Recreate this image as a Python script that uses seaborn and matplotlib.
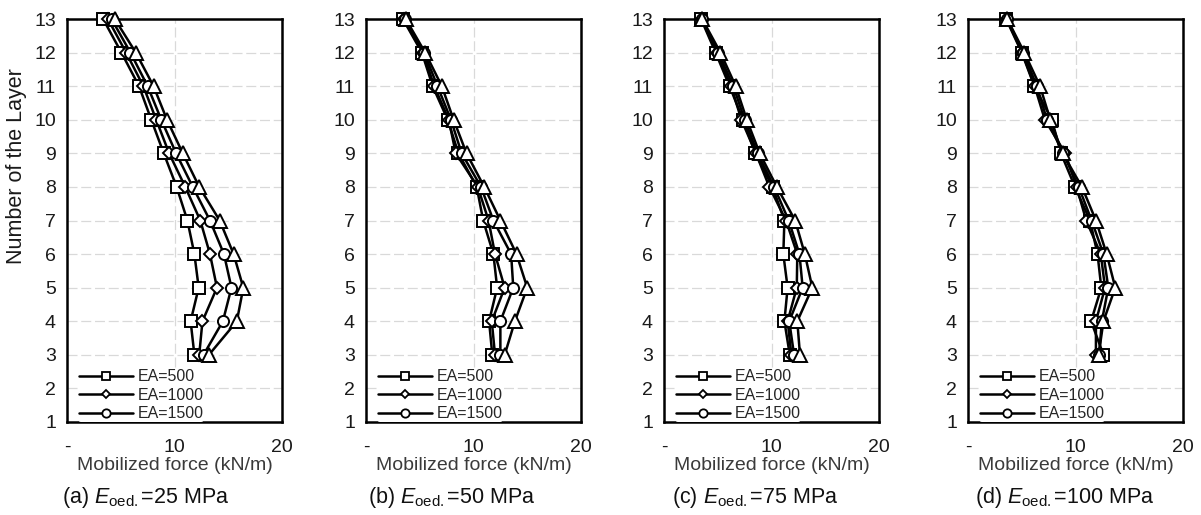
import numpy as np
import pandas as pd
import matplotlib
matplotlib.use("Agg")
import matplotlib.pyplot as plt
import seaborn as sns
from matplotlib.lines import Line2D

# ---------------- data ----------------
layers = [3, 4, 5, 6, 7, 8, 9, 10, 11, 12, 13]
series_names = ["EA=500", "EA=1000", "EA=1500", "EA=2000"]
captions = ["(a) $\\mathit{E}_{\\mathrm{oed.}}$=25 MPa",
            "(b) $\\mathit{E}_{\\mathrm{oed.}}$=50 MPa",
            "(c) $\\mathit{E}_{\\mathrm{oed.}}$=75 MPa",
            "(d) $\\mathit{E}_{\\mathrm{oed.}}$=100 MPa"]
x_ticks = [0, 10, 20]
x_ticklabels = ["-", "10", "20"]
y_ticks = list(range(1, 14))

a_ea500 = [11.85, 11.5, 12.25, 11.85, 11.2, 10.2, 9.0, 7.84, 6.7, 5.06, 3.36]
a_ea1000 = [12.3, 12.6, 13.95, 13.3, 12.4, 11.0, 9.5, 8.3, 7.1, 5.5, 3.8]
a_ea1500 = [12.7, 14.5, 15.3, 14.6, 13.3, 11.7, 10.15, 8.77, 7.5, 5.9, 4.14]
a_ea2000 = [13.2, 15.8, 16.4, 15.5, 14.2, 12.3, 10.77, 9.3, 8.05, 6.4, 4.44]

b_ea500 = [11.75, 11.45, 12.2, 11.85, 10.9, 10.3, 8.6, 7.6, 6.2, 5.2, 3.43]
b_ea1000 = [12.0, 11.7, 12.9, 12.0, 11.4, 10.4, 8.35, 7.7, 6.35, 5.3, 3.5]
b_ea1500 = [12.5, 12.5, 13.7, 13.5, 11.85, 10.7, 8.9, 7.9, 6.65, 5.4, 3.6]
b_ea2000 = [12.9, 13.85, 15.0, 14.0, 12.5, 11.0, 9.35, 8.15, 7.05, 5.5, 3.7]

c_ea500 = [11.7, 11.2, 11.5, 11.1, 11.2, 10.1, 8.5, 7.35, 6.1, 4.8, 3.45]
c_ea1000 = [11.85, 11.5, 12.35, 12.4, 11.35, 9.8, 8.55, 7.2, 6.25, 4.9, 3.5]
c_ea1500 = [12.1, 11.65, 12.9, 12.6, 11.6, 10.25, 8.7, 7.5, 6.45, 5.05, 3.5]
c_ea2000 = [12.65, 12.4, 13.8, 13.1, 12.2, 10.5, 8.9, 7.7, 6.67, 5.25, 3.55]

d_ea500 = [12.6, 11.45, 12.4, 12.05, 11.35, 9.95, 8.65, 7.8, 6.17, 5.0, 3.55]
d_ea1000 = [11.9, 11.9, 12.75, 12.35, 11.0, 10.1, 9.05, 7.15, 6.2, 5.05, 3.6]
d_ea1500 = [12.2, 12.45, 13.05, 12.6, 11.5, 10.3, 8.85, 7.35, 6.4, 5.15, 3.6]
d_ea2000 = [12.15, 12.6, 13.7, 12.9, 11.9, 10.6, 8.8, 7.65, 6.7, 5.24, 3.65]

panels = [
    [a_ea500, a_ea1000, a_ea1500, a_ea2000],
    [b_ea500, b_ea1000, b_ea1500, b_ea2000],
    [c_ea500, c_ea1000, c_ea1500, c_ea2000],
    [d_ea500, d_ea1000, d_ea1500, d_ea2000],
]

# ---------------- style ----------------
sns.set_style("white")
plt.rcParams["font.family"] = ["Liberation Sans", "DejaVu Sans"]
plt.rcParams["mathtext.fontset"] = "custom"
plt.rcParams["mathtext.rm"] = "Liberation Sans"
plt.rcParams["mathtext.it"] = "Liberation Sans:italic"

markers = ["s", "D", "o", "^"]
msizes = [8, 6.5, 8, 10]
legend_ms = [6, 4, 6]

FW, FH = 1201, 515
fig = plt.figure(figsize=(FW / 100, FH / 100), dpi=100)

lefts = [67, 366, 664, 968]
width = 215
top_px, bot_px = 19, 422
cap_x = [62, 368, 672, 975]

for i, (left, vals) in enumerate(zip(lefts, panels)):
    ax = fig.add_axes([left / FW, 1 - bot_px / FH, width / FW, (bot_px - top_px) / FH])
    ax.set_axisbelow(True)
    for k, v in enumerate(vals):
        df = pd.DataFrame({"force": v, "layer": layers})
        sns.lineplot(data=df, x="force", y="layer", ax=ax, orient="y", sort=False,
                     estimator=None, color="black", lw=1.8, marker=markers[k],
                     markersize=msizes[k], markerfacecolor="white",
                     markeredgecolor="black", markeredgewidth=1.4,
                     clip_on=False, zorder=3 + k, legend=False)
    ax.set_xlim(0, 20)
    ax.set_ylim(1, 13)
    ax.set_xticks(x_ticks)
    ax.set_xticklabels(x_ticklabels)
    ax.set_yticks(y_ticks)
    ax.tick_params(axis="both", length=0, labelsize=14, colors="#1a1a1a")
    ax.tick_params(axis="x", pad=12)
    ax.tick_params(axis="y", pad=8)
    ax.grid(True, color="#d9d9d9", lw=0.9, ls=(0, (8, 3)))
    for s in ax.spines.values():
        s.set_color("black")
        s.set_linewidth(1.8)
        s.set_zorder(2.5)
    ax.set_xlabel("Mobilized force (kN/m)", fontsize=14, color="#3a3a3a", labelpad=1)
    if i == 0:
        ax.set_ylabel("Number of the Layer", fontsize=15.5, color="#1a1a1a")
        ax.yaxis.set_label_coords(-0.185, 0.635)
    else:
        ax.set_ylabel("")
    handles = [Line2D([], [], color="black", lw=1.8, marker=markers[k],
                      markersize=legend_ms[k], markerfacecolor="white",
                      markeredgecolor="black", markeredgewidth=1.3)
               for k in range(3)]
    leg = ax.legend(handles, series_names[:3], loc="lower left",
                    bbox_to_anchor=(0.05, 0.0), frameon=True, fontsize=11.5,
                    handlelength=3.4, handletextpad=0.3, labelspacing=0.22,
                    borderpad=0.05, borderaxespad=0.0)
    leg.get_frame().set_facecolor("white")
    leg.get_frame().set_edgecolor("none")
    leg.get_frame().set_alpha(1.0)
    leg.set_zorder(10)
    fig.text(cap_x[i] / FW, 1 - 497 / FH, captions[i], fontsize=15.5,
             ha="left", va="center", color="#111111")

fig.savefig("out.png", dpi=100)
